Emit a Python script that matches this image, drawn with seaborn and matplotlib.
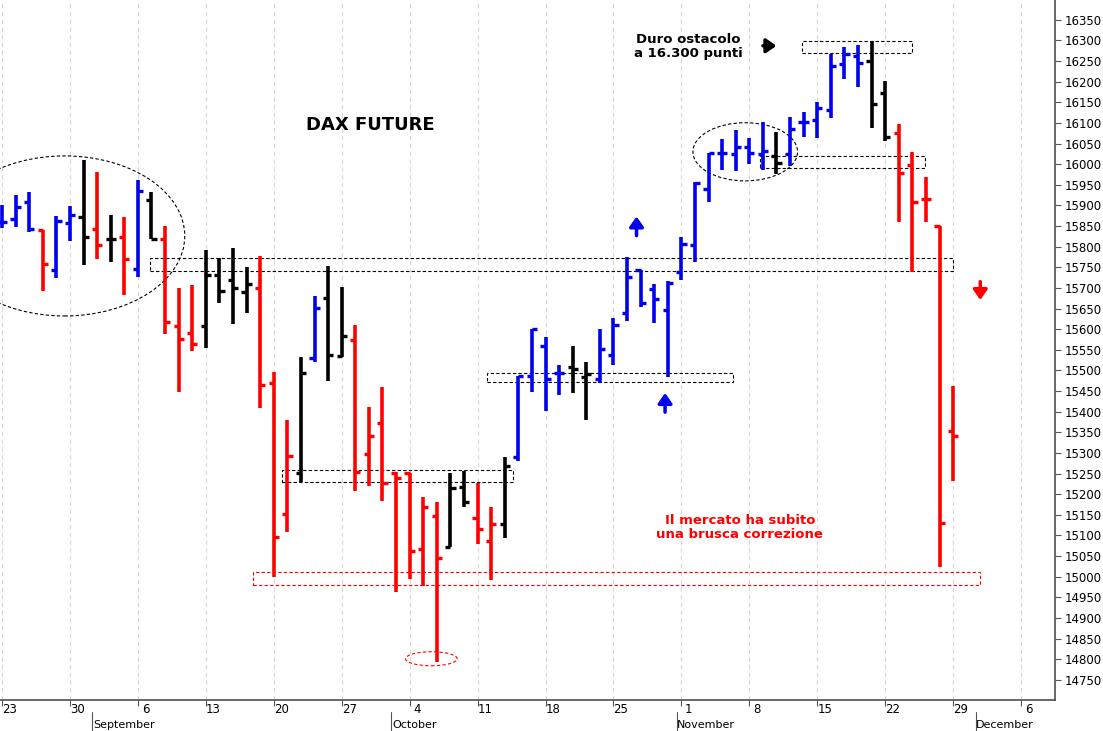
import numpy as np
import pandas as pd
import matplotlib
matplotlib.use("Agg")
from matplotlib import pyplot as plt
from matplotlib.patches import Rectangle, Ellipse
import seaborn as sns

# Daily OHLC bars of the DAX future (trading days from 23 Aug to 29 Nov)
opens = [15860, 15868, 15909, 15841, 15744, 15858, 15872, 15843, 15819, 15824,
         15746, 15914, 15819, 15608, 15591, 15608, 15732, 15720, 15691, 15700,
         15470, 15153, 15252, 15531, 15676, 15536, 15574, 15298, 15373, 15252,
         15252, 15068, 15148, 15073, 15218, 15143, 15087, 15128, 15291, 15487,
         15560, 15494, 15509, 15485, 15480, 15538, 15640, 15744, 15698, 15647,
         15739, 15805, 15941, 16026, 16024, 16041, 16024, 16021, 16024, 16103,
         16106, 16132, 16242, 16262, 16249, 16173, 16075, 15999, 15916, 15851,
         15354]
highs = [15900, 15926, 15933, 15841, 15875, 15899, 16011, 15982, 15877, 15872,
         15962, 15933, 15851, 15700, 15708, 15792, 15773, 15797, 15751, 15778,
         15497, 15380, 15533, 15681, 15754, 15703, 15611, 15412, 15460, 15254,
         15252, 15194, 15182, 15252, 15257, 15228, 15170, 15291, 15487, 15601,
         15582, 15514, 15560, 15521, 15601, 15628, 15775, 15744, 15710, 15717,
         15824, 15956, 16026, 16060, 16083, 16064, 16103, 16077, 16115, 16126,
         16151, 16266, 16285, 16290, 16299, 16202, 16098, 16030, 15969, 15851,
         15463]
lows = [15845, 15848, 15836, 15693, 15725, 15814, 15756, 15771, 15763, 15683,
        15727, 15819, 15589, 15448, 15548, 15555, 15664, 15613, 15640, 15409,
        15000, 15109, 15230, 15521, 15475, 15533, 15208, 15220, 15184, 14963,
        14995, 14978, 14794, 15073, 15170, 15080, 14993, 15094, 15281, 15448,
        15402, 15441, 15446, 15380, 15470, 15514, 15620, 15654, 15615, 15485,
        15720, 15763, 15909, 15987, 15984, 16001, 15987, 15977, 15996, 16066,
        16064, 16113, 16207, 16188, 16088, 16055, 15860, 15739, 15860, 15023,
        15233]
closes = [15860, 15897, 15843, 15759, 15863, 15877, 15824, 15805, 15819, 15771,
          15935, 15819, 15618, 15577, 15565, 15732, 15693, 15700, 15710, 15465,
          15097, 15293, 15494, 15652, 15538, 15584, 15254, 15342, 15228, 15240,
          15063, 15170, 15046, 15216, 15182, 15116, 15128, 15269, 15487, 15601,
          15480, 15494, 15504, 15492, 15553, 15611, 15727, 15664, 15674, 15713,
          15807, 15954, 16026, 16026, 16041, 16026, 16032, 16004, 16086, 16103,
          16137, 16239, 16266, 16245, 16145, 16066, 15979, 15909, 15916, 15131,
          15341]
bar_colors = list("bbbrbbkrkr" "bkrrrkkkkr" "rrkbkkrrrr" "rrrkkrrkbb"
                  "bbkkbbbbbb" "bbbbbbbkbb" "bbbbkkrrrrr")

day_labels = ["23", "30", "6", "13", "20", "27", "4", "11", "18", "25",
              "1", "8", "15", "22", "29", "6"]
month_names = ["September", "October", "November", "December"]
month_start_idx = [7, 29, 50, 72]
y_ticks = list(range(14750, 16351, 50))

palette = {"b": "#0000ee", "r": "#ff0000", "k": "#000000"}

df = pd.DataFrame(dict(open=opens, high=highs, low=lows, close=closes, c=bar_colors))
df["i"] = np.arange(len(df))

sns.set_theme(style="white")
plt.rcParams["font.family"] = ["DejaVu Sans"]
plt.rcParams["text.color"] = "black"
plt.rcParams["ytick.color"] = "black"

fig = plt.figure(figsize=(11.03, 7.31), dpi=100)
ax = fig.add_axes([0, 31 / 731, 1055 / 1103, 700 / 731])
ax.set_xlim(-0.15, 77.5)
ax.set_ylim(14701, 16398)

# Monday grid lines
mondays = np.arange(0, 76, 5)
for m in mondays:
    ax.axvline(m, color="#d8d8d8", lw=0.8, ls=(0, (4, 3)), zorder=0)

# OHLC bars
tk = 0.38
for _, r in df.iterrows():
    col = palette[r.c]
    ax.vlines(r.i, r.low, r.high, color=col, lw=2.6, zorder=3)
    ax.hlines(r.open, r.i - tk, r.i, color=col, lw=2.4, zorder=3)
    ax.hlines(r.close, r.i, r.i + tk, color=col, lw=2.4, zorder=3)

# dashed boxes
def box(x0, x1, y0, y1, col="black"):
    ax.add_patch(Rectangle((x0, y0), x1 - x0, y1 - y0, fill=False, ec=col,
                           lw=0.8, ls=(0, (3, 2)), zorder=2))

box(58.9, 67.0, 16270, 16299)
box(55.8, 67.9, 15990, 16020)
box(10.9, 70.0, 15742, 15773)
box(35.7, 53.8, 15472, 15494)
box(20.6, 37.6, 15230, 15259)
box(18.5, 72.0, 14980, 15012, col="red")

for cx, cy, w, h, col in [(4.6, 15826, 17.7, 388, "black"),
                          (54.7, 16030, 7.7, 141, "black"),
                          (31.6, 14801, 3.8, 34, "red")]:
    ax.add_patch(Ellipse((cx, cy), w, h, fill=False, ec=col, lw=0.8,
                         ls=(0, (3, 2)), zorder=2))

# arrows
arr = dict(arrowstyle="-|>,head_width=0.35,head_length=0.5", lw=2.5)
ax.annotate("", xy=(46.7, 15880), xytext=(46.7, 15820),
            arrowprops=dict(color="#0000ee", **arr))
ax.annotate("", xy=(48.8, 15452), xytext=(48.8, 15392),
            arrowprops=dict(color="#0000ee", **arr))
ax.annotate("", xy=(57.2, 16287), xytext=(55.8, 16287),
            arrowprops=dict(color="black", **arr))
ax.annotate("", xy=(72.0, 15664), xytext=(72.0, 15722),
            arrowprops=dict(color="red", **arr))

# texts
ax.text(27.1, 16095, "DAX FUTURE", fontsize=13, weight="bold", ha="center",
        va="center", color="black")
ax.text(50.5, 16285, "Duro ostacolo\na 16.300 punti", fontsize=9.5, weight="bold",
        ha="center", va="center", linespacing=1.1, color="black")
ax.text(54.3, 15120, "Il mercato ha subito\nuna brusca correzione", fontsize=9.5,
        weight="bold", color="red", ha="center", va="center", linespacing=1.1)

# axes formatting
for s in ["top", "left"]:
    ax.spines[s].set_visible(False)
ax.spines["right"].set_color("#555555")
ax.spines["bottom"].set_color("#555555")
ax.yaxis.tick_right()
ax.set_yticks(y_ticks)
ax.set_yticklabels([str(v) for v in y_ticks])
ax.tick_params(axis="y", right=True, length=4, width=0.8, labelsize=8.5, pad=3,
               color="#555555")
ax.set_xticks(mondays)
ax.set_xticklabels([])
ax.tick_params(axis="x", bottom=True, length=4, width=0.8, color="#555555")

trans = ax.get_xaxis_transform()
for m, lab in zip(mondays, day_labels):
    ax.text(m + 0.55, -0.013, lab, transform=trans, ha="center", va="center",
            fontsize=8.5, clip_on=False, color="black")
for idx, name in zip(month_start_idx, month_names):
    ax.plot([idx - 0.35, idx - 0.35], [-0.017, -0.05], transform=trans,
            color="#555555", lw=0.8, clip_on=False)
    ax.text(idx - 0.3, -0.035, name, transform=trans, ha="left", va="center",
            fontsize=8, clip_on=False, color="black")

fig.savefig("out.png", dpi=100)
